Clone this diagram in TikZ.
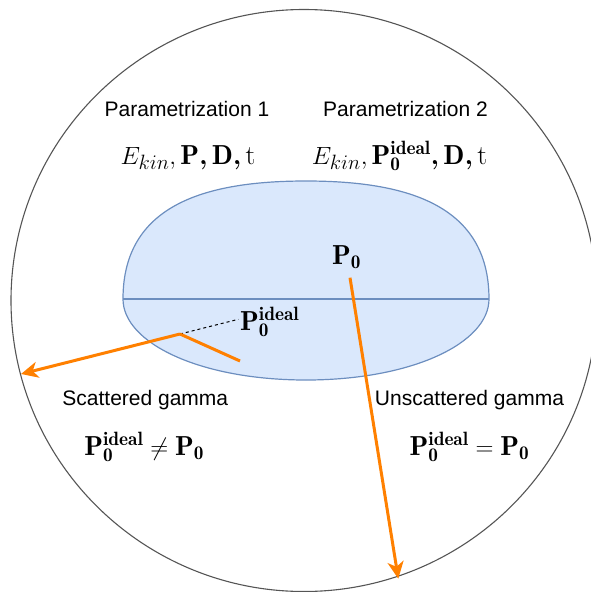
\documentclass[tikz,border=0pt]{standalone}
\usepackage{fontspec}
\newfontfamily\arialfont{Liberation Sans}
\usetikzlibrary{arrows.meta}
\definecolor{gorange}{HTML}{FF8000}
\definecolor{bfill}{HTML}{DAE8FC}
\definecolor{bline}{HTML}{6C8EBF}
\definecolor{cline}{HTML}{555555}
\newcommand{\bcomma}{\mathpunct{\mbox{\bfseries ,}}}
\tikzset{
  lbl/.style={inner sep=0pt, anchor=base, font=\arialfont\fontsize{21}{25}\selectfont},
  mth/.style={inner sep=0pt, anchor=base, font=\fontsize{27.5}{32}\selectfont},
  gamma/.style={draw=gorange, line width=3pt},
  gammaarrow/.style={gamma, -{Stealth[length=17pt, width=16pt, inset=5pt]}},
}
\begin{document}
\begin{tikzpicture}[x=1pt, y=-1pt]
\useasboundingbox (0,0) rectangle (591,592);
% outer sphere
\draw[cline, line width=1.1pt] (304,300.5) ellipse [x radius=293, y radius=291];
% crystal
\draw[bline, fill=bfill, line width=1.2pt]
  (123,299) .. controls (123,205) and (205,181) .. (306,181)
  .. controls (407,181) and (489,205) .. (489,299)
  .. controls (489,343) and (412,380) .. (306,380)
  .. controls (200,380) and (123,343) .. (123,299) -- cycle;
\draw[bline, line width=1.2pt] (123,299) -- (489,299);
% texts
\node[lbl] (par1) at (187,116.7) {Parametrization 1};
\node[lbl] (par2) at (405.5,116.7) {Parametrization 2};
\node[mth] (set1) at (188,164) {$E_{kin},\mathbf{P}\bcomma\mathbf{D}\bcomma\mathrm{t}$};
\node[mth] (set2) at (399.5,164) {$E_{kin},\mathbf{P}_{\mathbf{0}}^{\mathbf{ideal}}\bcomma\mathbf{D}\bcomma\mathrm{t}$};
\node[mth] (pzero) at (346.5,264.5) {$\mathbf{P}_{\mathbf{0}}$};
\node[mth, anchor=base west] (pideal) at (240,330) {$\mathbf{P}_{\mathbf{0}}^{\mathbf{ideal}}$};
\node[lbl] (scat) at (145.3,405) {Scattered gamma};
\node[lbl] (unscat) at (469.5,405) {Unscattered gamma};
\node[mth] (neq) at (144.2,455) {$\mathbf{P}_{\mathbf{0}}^{\mathbf{ideal}}\neq\mathbf{P}_{\mathbf{0}}$};
\node[mth] (eq) at (469.5,455) {$\mathbf{P}_{\mathbf{0}}^{\mathbf{ideal}}=\mathbf{P}_{\mathbf{0}}$};
% gamma paths
\coordinate (gin) at (240,361);
\coordinate (hit) at (180,334);
\coordinate (gout) at (21,374);
\coordinate (ustart) at (350,277.7);
\coordinate (uend) at (398.3,578.7);
\coordinate (ptip) at (238.3,319.3);
\draw[dashed, line width=1pt, dash pattern=on 3pt off 3pt] (hit) -- (ptip);
\draw[gamma, line cap=butt] (gin) -- (hit);
\draw[gammaarrow] (hit) -- (gout);
\draw[gammaarrow] (ustart) -- (uend);
\end{tikzpicture}
\end{document}
